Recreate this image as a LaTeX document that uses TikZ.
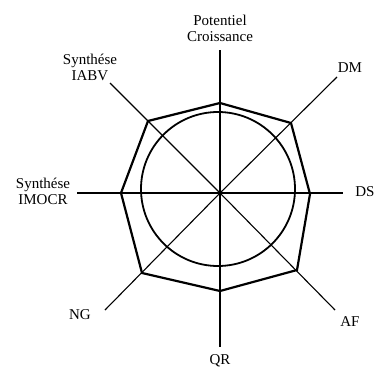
\documentclass[tikz,border=0pt]{standalone}
\usepackage{fontspec}
\setmainfont{Liberation Serif}
\usetikzlibrary{positioning}
\tikzset{%
  % Specifications for style of nodes:
            lbl/.style = {inner sep=1pt, align=center,
                            font=\fontsize{15}{16}\selectfont},
            axis/.style = {draw=black, line width=1.1pt},
            ring/.style = {draw=black, line width=1.8pt},
            score/.style = {draw=black, line width=2.2pt, line join=miter}
}
\begin{document}
\begin{tikzpicture}[x=1pt, y=-1pt]
                \useasboundingbox (0,0) rectangle (388,370);

                \coordinate (c) at (220,193);
                % ends of the axes
                \coordinate (apc) at (220,50);
                \coordinate (adm) at (337,77);
                \coordinate (ads) at (343,193);
                \coordinate (aaf) at (335,310);
                \coordinate (aqr) at (220,347);
                \coordinate (ang) at (105,310);
                \coordinate (aim) at (77,193);
                \coordinate (aia) at (110,83);
                \foreach \a in {apc,adm,ads,aaf,aqr,ang,aim,aia}
                    \draw[axis] (c) -- (\a);

                \node[ring, circle, minimum size=154pt, inner sep=0pt] (ring) at (218,189) {};

                % points of the profile
                \coordinate (ppc) at (220,103);
                \coordinate (pdm) at (291,123);
                \coordinate (pds) at (310,194);
                \coordinate (paf) at (297,270);
                \coordinate (pqr) at (220,291);
                \coordinate (png) at (142,273);
                \coordinate (pim) at (121,193);
                \coordinate (pia) at (148,121);
                \draw[score] (ppc) -- (pdm) -- (pds) -- (paf) -- (pqr) -- (png) -- (pim) -- (pia) -- cycle;

                \node[lbl] (pc) at (220,28) {Potentiel\\Croissance};
                \node[lbl] (dm) at (350,68) {DM};
                \node[lbl] (ds) at (365,192) {DS};
                \node[lbl] (af) at (350,322) {AF};
                \node[lbl] (qr) at (220,361) {QR};
                \node[lbl] (ng) at (80,315) {NG};
                \node[lbl] (im) at (43,191) {Synthése\\IMOCR};
                \node[lbl] (ia) at (90,67) {Synthése\\IABV};

            \end{tikzpicture}
\end{document}
